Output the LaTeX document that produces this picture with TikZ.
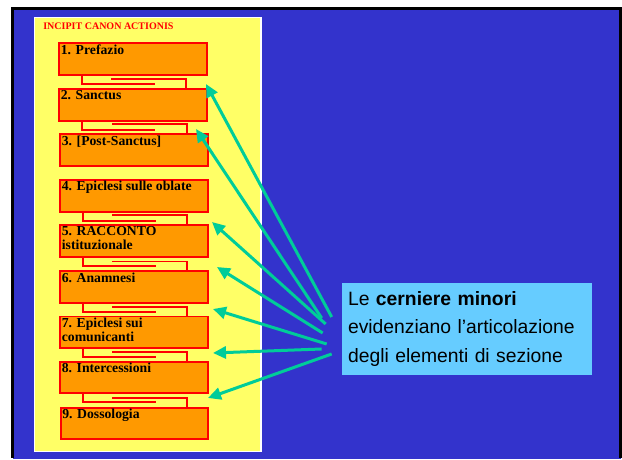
\documentclass[tikz,border=0pt]{standalone}
\usepackage{fontspec}
\setmainfont{Liberation Serif}
\setsansfont{Liberation Sans}
\usepackage{xcolor}
\usepackage{tikz}
\usetikzlibrary{arrows.meta}

\definecolor{slideblue}{HTML}{3333CC}
\definecolor{panelyellow}{HTML}{FFFF66}
\definecolor{partorange}{HTML}{FF9900}
\definecolor{pointerteal}{HTML}{00CC99}
\definecolor{noteblue}{HTML}{66CCFF}

\tikzset{
  part/.style={draw=red, fill=partorange, line width=0.04cm, minimum width=2.96cm, minimum height=0.64cm, inner sep=0pt},
  lbl/.style={anchor=north west, inner sep=0pt, align=left, xshift=0.05cm, yshift=-0.04cm,
    font=\bfseries\fontsize{7.8}{8}\selectfont},
  hinge/.style={draw=red, line width=0.04cm},
  pointer/.style={draw=pointerteal, line width=0.06cm, -{Triangle[length=0.26cm,width=0.24cm]}},
}

\begin{document}
\begin{tikzpicture}[x=0.02cm, y=-0.02cm]
    \fill[white] (0,0) rectangle (622,459);
    \fill[slideblue] (12.5,8.5) rectangle (620.5,459);
    \draw[black, line width=0.05cm] (12.5,458) -- (12.5,8.5) -- (620.5,8.5) -- (620.5,458);
    \useasboundingbox (0,0) rectangle (622,459);
    \filldraw[fill=panelyellow, draw=white, line width=0.03cm] (34.5,17.5) rectangle (261,451.5);
    \node[anchor=base west, inner sep=0pt, text=red, font=\bfseries\fontsize{5.7}{6}\selectfont] (title) at (43,30) {INCIPIT CANON ACTIONIS};
    % the nine parts
    \node[part, label={[lbl]north west:1. Prefazio}] (b1) at (133,59.5) {};
    \node[part, label={[lbl]north west:2. Sanctus}] (b2) at (133,105.5) {};
    \node[part, label={[lbl]north west:3. [Post-Sanctus]}] (b3) at (134,150.5) {};
    \node[part, label={[lbl]north west:4. Epiclesi sulle oblate}] (b4) at (134,196) {};
    \node[part, label={[lbl]north west:5. RACCONTO\\istituzionale}] (b5) at (134,241.5) {};
    \node[part, label={[lbl]north west:6. Anamnesi}] (b6) at (134,287.5) {};
    \node[part, label={[lbl]north west:7. Epiclesi sui\\comunicanti}] (b7) at (134,332.5) {};
    \node[part, label={[lbl]north west:8. Intercessioni}] (b8) at (134,377.5) {};
    \node[part, label={[lbl]north west:9. Dossologia}] (b9) at (134.5,423.5) {};
    % hinges
    \foreach \u/\l in {1/2,2/3,4/5,5/6,6/7,7/8,8/9} {
      \draw[hinge] ([shift={(24,0)}]b\u.south west) -- ++(0,8) -- ++(73,0);
      \draw[hinge] ([shift={(-22,0)}]b\l.north east) -- ++(0,-9) -- ++(-75,0);
    }
    \node[fill=noteblue, minimum width=5cm, minimum height=1.84cm, text width=4.76cm, inner xsep=0.12cm, align=left,
      font=\sffamily\fontsize{11}{16}\selectfont] (note) at (467,329)
      {Le \textbf{cerniere minori}\\evidenziano l'articolazione\\degli elementi di sezione};
    % pointers
    \draw[pointer] ([shift={(-10,-12)}]note.west) -- ([shift={(-2,-4.5)}]b2.north east);
    \draw[pointer] ([shift={(-20,-11)}]note.west) -- ([shift={(-13,-4.5)}]b3.north east);
    \draw[pointer] ([shift={(-16,-5)}]note.west) -- ([shift={(3,-2.5)}]b5.north east);
    \draw[pointer] ([shift={(-19,4)}]note.west) -- ([shift={(8,-3.5)}]b6.north east);
    \draw[pointer] ([shift={(-15,15)}]note.west) -- ([shift={(4,-6.5)}]b7.north east);
    \draw[pointer] ([shift={(-20,20)}]note.west) -- ([shift={(4,-7.5)}]b8.north east);
    \draw[pointer] ([shift={(-10,25)}]note.west) -- ([shift={(-1.5,-8.5)}]b9.north east);
\end{tikzpicture}
\end{document}
